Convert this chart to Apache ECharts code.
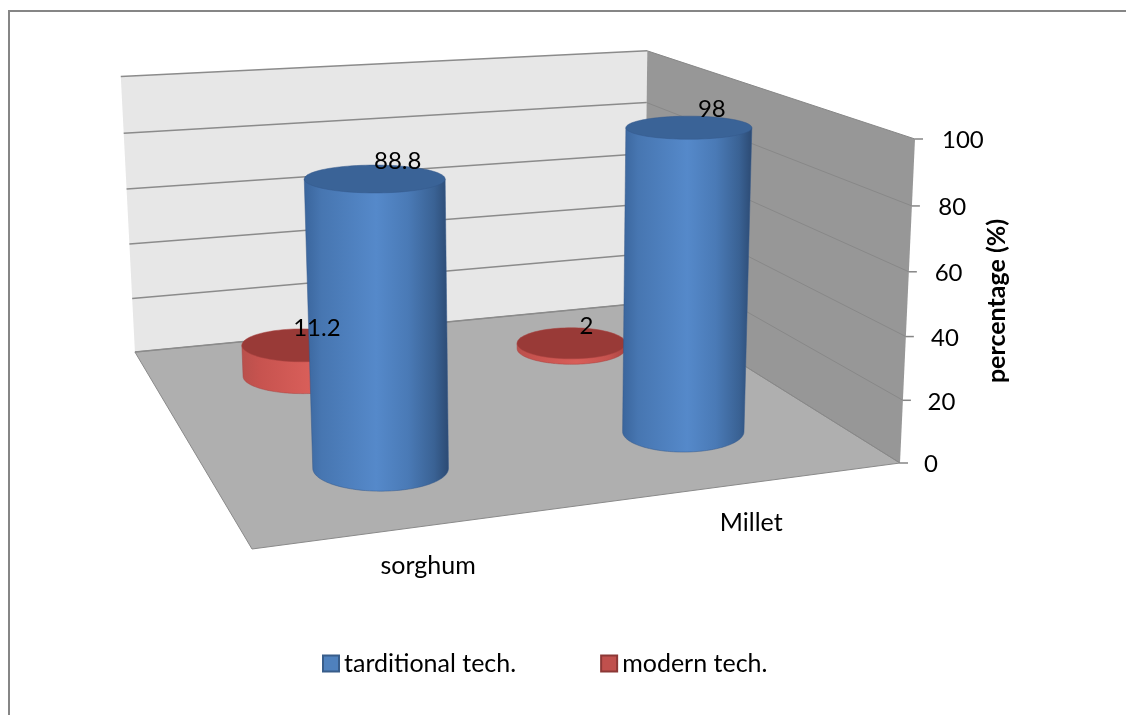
<!DOCTYPE html>
<html><head><meta charset="utf-8">
<style>html,body{margin:0;padding:0;background:#fff}#c{width:1126px;height:715px}</style>
<script src="https://cdn.jsdelivr.net/npm/echarts@6/dist/echarts.min.js"></script>
</head><body><div id="c"></div>
<script>
var categories = ['sorghum', 'Millet'];
var seriesNames = ['tarditional tech.', 'modern tech.'];
var traditional = [88.8, 98];
var modern = [11.2, 2];
var yTicks = [0, 20, 40, 60, 80, 100];
var yTitle = 'percentage (%)';

// perspective frame of the 3D box
var O = [900, 463], A = [-648, 86], B = [-256, -160], C = [15, -324];
var wa = 0.8866, wb = 1.299, wc = 0.96;
var FONT = 'Lato';
var TEXT_PX = 25, NUM_PX = 24;
var RA = 0.106, RB = 0.108, N = 96;
var DEPTH = [0.25, 0.75];

function P(a, b, c) {
  var d = 1 + a * (wa - 1) + b * (wb - 1) + c * (wc - 1);
  return [O[0] + (a * wa * A[0] + b * wb * B[0] + c * wc * C[0]) / d,
          O[1] + (a * wa * A[1] + b * wb * B[1] + c * wc * C[1]) / d];
}
function norm(params, api, cat, val) {
  var r = params.coordSys, p = api.coord([cat, val]);
  return { a: 1 - (p[0] - r.x) / r.width, c: (r.y + r.height - p[1]) / r.height };
}
// level ellipse of a cylinder at height c: centre and radii follow the perspective frame
function ellipse(a0, b0, c) {
  var m = P(a0, b0, c);
  return { cx: m[0], cy: m[1],
    rx: Math.abs(P(a0 - RA, b0, c)[0] - P(a0 + RA, b0, c)[0]) / 2,
    ry: Math.abs(P(a0, b0 - RB, c)[1] - P(a0, b0 + RB, c)[1]) / 2 };
}
function ellipsePts(e, from, to) {
  var o = [];
  for (var i = 0; i <= N; i++) {
    var t = from + (to - from) * i / N;
    o.push([e.cx + e.rx * Math.cos(t), e.cy + e.ry * Math.sin(t)]);
  }
  return o;
}
function hgrad(stops) {
  return { type: 'linear', x: 0, y: 0, x2: 1, y2: 0,
    colorStops: stops.map(function (s) { return { offset: s[0], color: s[1] }; }) };
}
var STYLES = [
  { body: hgrad([[0, '#3a659c'], [0.12, '#4776b1'], [0.5, '#5589ca'], [0.72, '#4a7ab6'], [0.9, '#3a6294'], [1, '#2c4a73']]),
    top: '#3a6397', edge: '#35598a' },
  { body: hgrad([[0, '#b9504c'], [0.15, '#c7534f'], [0.55, '#d85e59'], [0.85, '#c5524e'], [1, '#a84340']]),
    top: '#993a37', edge: '#a84340' }
];
function cylinder(si) {
  return function (params, api) {
    var n = norm(params, api, api.value(0), api.value(1));
    var base = ellipse(n.a, DEPTH[si], 0), top = ellipse(n.a, DEPTH[si], n.c);
    var body = [[top.cx - top.rx, top.cy]].concat(ellipsePts(base, Math.PI, 0)).concat([[top.cx + top.rx, top.cy]]);
    var st = STYLES[si];
    return { type: 'group', children: [
      { type: 'polygon', shape: { points: body }, style: { fill: st.body, stroke: st.edge, lineWidth: 0.5 } },
      { type: 'polygon', shape: { points: ellipsePts(top, 0, Math.PI * 2) }, style: { fill: st.top, stroke: st.edge, lineWidth: 0.5 } }
    ] };
  };
}
function walls() {
  return { type: 'group', children: [
    { type: 'polygon', shape: { points: [P(1, 1, 0), P(0, 1, 0), P(0, 1, 1), P(1, 1, 1)] }, style: { fill: '#e7e7e7' } },
    { type: 'polygon', shape: { points: [P(0, 1, 0), P(0, 0, 0), P(0, 0, 1), P(0, 1, 1)] }, style: { fill: '#979797' } },
    { type: 'polygon', shape: { points: [P(0, 0, 0), P(1, 0, 0), P(1, 1, 0), P(0, 1, 0)] }, style: { fill: '#afafaf', stroke: '#8a8a8a', lineWidth: 1 } },
    { type: 'polyline', shape: { points: [[1126, 11], [9, 11], [9, 715]] }, style: { fill: 'none', stroke: '#868686', lineWidth: 2 } }
  ] };
}
function axisTick(params, api) {
  var v = api.value(1), n = norm(params, api, 0, v);
  var f = P(0, 0, n.c), k = P(0, 1, n.c), l = P(1, 1, n.c);
  return { type: 'group', children: [
    { type: 'polyline', shape: { points: [l, k] }, style: { fill: 'none', stroke: '#8b8b8b', lineWidth: 1.5 } },
    { type: 'polyline', shape: { points: [k, f] }, style: { fill: 'none', stroke: '#888888', lineWidth: 1 } },
    { type: 'line', shape: { x1: f[0], y1: f[1], x2: f[0] + 8, y2: f[1] }, style: { stroke: '#868686', lineWidth: 1.5 } },
    { type: 'text', x: f[0] + 24 + 3 * n.c, y: f[1] + 1.5, style: { text: String(v), fill: '#000', font: NUM_PX + 'px ' + FONT, textAlign: 'left', textVerticalAlign: 'middle' } }
  ] };
}
function catLabel(params, api) {
  var i = api.value(0), n = norm(params, api, i, 0), f = P(n.a, 0, 0);
  return { type: 'text', x: f[0] - 1, y: f[1] + 40, style: { text: categories[i], fill: '#000', font: TEXT_PX + 'px ' + FONT, textAlign: 'center', textVerticalAlign: 'middle' } };
}
function valLabel(params, api) {
  var i = api.value(0), v = api.value(1), si = api.value(2);
  var n = norm(params, api, i, v), t = P(n.a, DEPTH[si], n.c);
  return { type: 'text', x: t[0] + (si ? 15 : 23), y: t[1] + (si ? -17 : -18), style: { text: String(v), fill: '#000', font: NUM_PX + 'px ' + FONT, textAlign: 'center', textVerticalAlign: 'middle' } };
}
var idx = categories.map(function (c, i) { return i; });
var labelData = idx.map(function (i) { return [i, modern[i], 1]; }).concat(idx.map(function (i) { return [i, traditional[i], 0]; }));

var chart = echarts.init(document.getElementById('c'));
chart.setOption({
  backgroundColor: '#fff', animation: false,
  grid: { left: 252, top: 139, width: 648, height: 324 },
  xAxis: { type: 'category', data: categories, show: false },
  yAxis: { type: 'value', min: 0, max: 100, interval: 20, position: 'right',
    axisLine: { show: false }, axisTick: { show: false }, axisLabel: { show: false }, splitLine: { show: false },
    name: yTitle, nameLocation: 'middle', nameRotate: 90, nameGap: 84,
    nameTextStyle: { fontFamily: FONT, fontWeight: 'bold', fontSize: 25, color: '#000' } },
  legend: { left: 322, top: 651, padding: 0, data: seriesNames, itemWidth: 16, itemHeight: 16, itemGap: 84, itemTextGap: 6, icon: 'rect',
    textStyle: { fontFamily: FONT, fontSize: TEXT_PX, color: '#000' } },
  series: [
    { type: 'custom', name: 'frame', z: 1, silent: true, renderItem: walls, data: [[0, 0]], encode: { x: 0, y: 1 } },
    { type: 'custom', name: 'axis', z: 1.5, silent: true, renderItem: axisTick, data: yTicks.map(function (t) { return [0, t]; }), encode: { x: 0, y: 1 } },
    { type: 'custom', name: 'cats', z: 1.5, silent: true, renderItem: catLabel, data: idx.map(function (i) { return [i, 0]; }), encode: { x: 0, y: 1 } },
    { type: 'custom', name: seriesNames[1], z: 2, renderItem: cylinder(1), data: idx.map(function (i) { return [i, modern[i]]; }), encode: { x: 0, y: 1 },
      itemStyle: { color: '#c0504d', borderColor: '#8c3836', borderWidth: 1.5 } },
    { type: 'custom', name: seriesNames[0], z: 3, renderItem: cylinder(0), data: idx.map(function (i) { return [i, traditional[i]]; }), encode: { x: 0, y: 1 },
      itemStyle: { color: '#4f81bd', borderColor: '#385d8a', borderWidth: 1.5 } },
    { type: 'custom', name: 'values', z: 5, silent: true, renderItem: valLabel, data: labelData, encode: { x: 0, y: 1 } }
  ]
});
</script></body></html>
